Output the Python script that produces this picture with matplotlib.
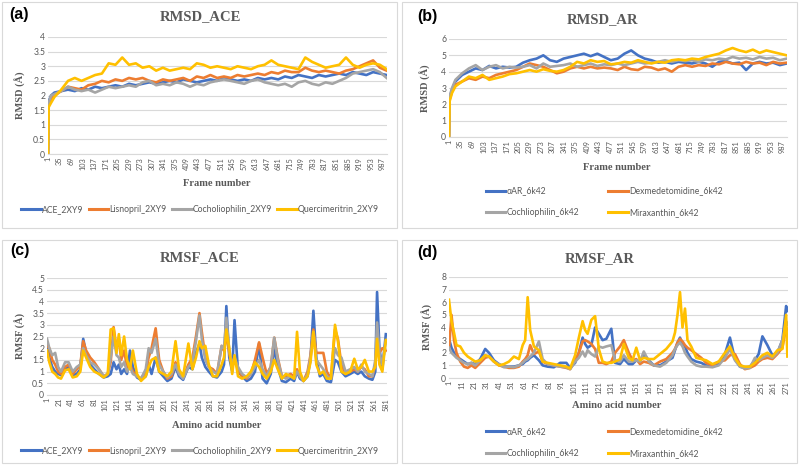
import matplotlib
matplotlib.use("Agg")
import matplotlib.pyplot as plt
from matplotlib.patches import Rectangle

# ---- RMSD data (frame number -> RMSD in Angstrom) ----
rmsd_frames = [1, 3, 10, 20, 40, 60, 80, 100, 120, 140, 160, 180, 200, 220, 240, 260,
               280, 300, 320, 340, 360, 380, 400, 420, 440, 460, 480, 500, 520, 540,
               560, 580, 600, 620, 640, 660, 680, 700, 720, 740, 760, 780, 800, 820,
               840, 860, 880, 900, 920, 940, 960, 980, 1000]

ace_2xy9 = [0, 1.8, 2.0, 2.1, 2.15, 2.2, 2.15, 2.25, 2.2, 2.3, 2.25, 2.3, 2.35, 2.3, 2.4,
            2.35, 2.4, 2.45, 2.4, 2.45, 2.5, 2.45, 2.55, 2.5, 2.45, 2.5, 2.55, 2.5, 2.6,
            2.55, 2.5, 2.55, 2.5, 2.6, 2.55, 2.6, 2.55, 2.65, 2.6, 2.7, 2.65, 2.6, 2.7,
            2.65, 2.7, 2.75, 2.7, 2.8, 2.75, 2.7, 2.8, 2.75, 2.7]
lisnopril_2xy9 = [0, 1.7, 1.85, 2.0, 2.15, 2.3, 2.25, 2.2, 2.35, 2.4, 2.5, 2.45, 2.55, 2.5,
                  2.6, 2.55, 2.6, 2.5, 2.45, 2.55, 2.5, 2.55, 2.6, 2.5, 2.65, 2.6, 2.7, 2.6,
                  2.65, 2.6, 2.7, 2.65, 2.7, 2.75, 2.7, 2.8, 2.75, 2.85, 2.8, 2.8, 2.95,
                  2.85, 2.8, 2.85, 2.8, 2.75, 2.85, 2.9, 3.0, 3.1, 3.2, 2.95, 2.85]
cocholiophilin_2xy9 = [0, 1.75, 2.0, 2.05, 2.15, 2.3, 2.2, 2.15, 2.2, 2.1, 2.2, 2.3, 2.25,
                       2.3, 2.35, 2.3, 2.45, 2.5, 2.35, 2.4, 2.35, 2.45, 2.4, 2.3, 2.4,
                       2.35, 2.45, 2.5, 2.55, 2.5, 2.45, 2.4, 2.5, 2.55, 2.45, 2.4, 2.35,
                       2.4, 2.3, 2.45, 2.5, 2.4, 2.35, 2.45, 2.4, 2.5, 2.6, 2.75, 2.8,
                       2.85, 2.9, 2.8, 2.6]
quercimeritrin_2xy9 = [0, 1.6, 1.75, 1.95, 2.2, 2.5, 2.6, 2.5, 2.6, 2.7, 2.75, 3.1, 3.05,
                       3.3, 3.05, 3.1, 2.95, 3.0, 2.85, 2.95, 2.85, 2.9, 2.95, 2.9, 3.1,
                       3.05, 2.95, 3.0, 2.95, 2.9, 3.0, 2.95, 2.9, 3.0, 3.05, 3.2, 3.05,
                       3.0, 2.95, 2.9, 3.3, 3.15, 3.05, 2.95, 3.0, 3.05, 3.3, 3.05, 2.95,
                       3.05, 3.1, 3.05, 2.9]

aar_6k42 = [0, 2.4, 2.9, 3.4, 3.8, 4.0, 4.2, 4.1, 4.35, 4.2, 4.3, 4.25, 4.3, 4.55, 4.7, 4.8,
            5.0, 4.7, 4.6, 4.8, 4.9, 5.0, 5.1, 4.95, 5.1, 4.9, 4.7, 4.8, 5.1, 5.3, 5.0, 4.8,
            4.7, 4.55, 4.6, 4.5, 4.6, 4.55, 4.5, 4.6, 4.5, 4.3, 4.6, 4.65, 4.5, 4.55, 4.1,
            4.5, 4.6, 4.5, 4.55, 4.4, 4.5]
dexmedetomidine_6k42 = [0, 2.3, 2.8, 3.2, 3.4, 3.6, 3.5, 3.7, 3.6, 3.8, 3.9, 4.0, 4.1, 4.3,
                        4.5, 4.4, 4.3, 4.1, 3.9, 4.0, 4.2, 4.3, 4.2, 4.3, 4.2, 4.25, 4.2,
                        4.1, 4.3, 4.15, 4.1, 4.3, 4.25, 4.1, 4.2, 4.0, 4.3, 4.4, 4.3, 4.4,
                        4.35, 4.5, 4.45, 4.6, 4.5, 4.45, 4.6, 4.5, 4.55, 4.4, 4.6, 4.5, 4.55]
cochliophilin_6k42 = [0, 2.5, 3.0, 3.5, 3.9, 4.2, 4.4, 4.1, 4.3, 4.4, 4.2, 4.3, 4.25, 4.3,
                      4.4, 4.2, 4.5, 4.3, 4.35, 4.4, 4.5, 4.3, 4.4, 4.5, 4.35, 4.45, 4.4,
                      4.5, 4.4, 4.5, 4.6, 4.5, 4.55, 4.6, 4.7, 4.6, 4.7, 4.65, 4.7, 4.6,
                      4.75, 4.7, 4.8, 4.75, 4.9, 4.8, 4.85, 4.75, 4.9, 4.8, 4.85, 4.7, 4.8]
miraxanthin_6k42 = [0, 2.2, 2.7, 3.1, 3.4, 3.7, 3.6, 3.8, 3.5, 3.6, 3.7, 3.85, 3.9, 4.0, 4.1,
                    4.0, 4.15, 4.05, 4.0, 4.1, 4.3, 4.6, 4.5, 4.7, 4.6, 4.65, 4.45, 4.5,
                    4.6, 4.55, 4.7, 4.6, 4.5, 4.6, 4.55, 4.7, 4.75, 4.7, 4.8, 4.75, 4.9,
                    5.0, 5.1, 5.3, 5.45, 5.3, 5.2, 5.35, 5.15, 5.3, 5.2, 5.1, 5.0]

# ---- RMSF data for ACE (amino acid number -> RMSF) ----
ace_res = [1, 5, 10, 15, 20, 25, 32, 38, 45, 52, 58, 63, 68, 75, 82, 90, 98, 105, 110, 115,
           120, 124, 128, 133, 138, 143, 148, 155, 162, 170, 175, 180, 187, 193, 200, 207,
           214, 221, 227, 234, 243, 250, 256, 262, 266, 272, 278, 285, 292, 300, 304, 308,
           313, 318, 322, 328, 335, 343, 350, 357, 364, 370, 377, 384, 390, 396, 403, 410,
           418, 424, 429, 434, 440, 447, 452, 457, 462, 468, 474, 480, 487, 494, 499, 505,
           512, 520, 527, 533, 539, 545, 552, 558, 563, 566, 570, 575, 581]
rmsf_ace = [2.2, 1.6, 1.2, 1.0, 0.9, 0.85, 1.1, 1.2, 0.85, 0.9, 1.1, 2.4, 1.8, 1.3, 1.1, 0.9,
            0.75, 0.8, 0.9, 1.4, 1.1, 1.3, 0.9, 1.1, 0.9, 1.9, 1.2, 0.75, 0.65, 0.8, 1.3, 0.9,
            1.6, 1.0, 0.8, 0.6, 0.7, 1.2, 0.8, 0.65, 1.2, 1.1, 1.8, 2.2, 1.6, 1.2, 1.0, 0.8,
            0.75, 1.0, 1.3, 3.8, 1.6, 1.0, 3.2, 1.0, 0.8, 0.6, 0.7, 1.0, 2.2, 0.7, 0.5, 0.9,
            2.0, 1.2, 0.6, 0.55, 0.7, 0.6, 1.0, 0.7, 0.6, 0.8, 1.5, 3.6, 1.6, 0.8, 0.9, 0.6,
            0.55, 1.5, 1.4, 1.0, 0.8, 0.9, 1.0, 0.9, 1.0, 0.8, 0.7, 0.65, 1.0, 4.4, 2.0, 1.1,
            2.6]
rmsf_lisnopril = [2.1, 2.0, 1.5, 1.3, 1.0, 0.9, 1.2, 1.3, 0.9, 1.1, 1.3, 2.3, 1.9, 1.6, 1.4,
                  1.1, 0.8, 0.9, 1.4, 2.9, 2.0, 2.4, 1.5, 1.9, 1.2, 1.3, 1.0, 0.8, 0.7, 1.0,
                  1.6, 2.0, 2.85, 1.5, 1.0, 0.7, 0.8, 1.4, 1.0, 0.75, 1.3, 1.6, 2.5, 3.5, 2.7,
                  1.6, 1.2, 1.1, 0.9, 2.1, 1.9, 2.6, 1.8, 1.2, 1.5, 1.1, 0.8, 0.7, 0.9, 1.5,
                  2.25, 1.6, 0.9, 1.2, 2.45, 1.6, 0.8, 0.8, 0.9, 0.8, 1.1, 0.8, 0.6, 1.0, 1.7,
                  2.8, 1.8, 1.8, 1.8, 1.0, 0.7, 2.8, 2.4, 1.3, 0.9, 1.0, 1.1, 1.0, 1.2, 1.1,
                  0.8, 0.8, 1.3, 2.4, 1.8, 2.0, 1.9]
rmsf_cocholiophilin = [2.4, 2.0, 1.7, 1.8, 1.2, 1.0, 1.4, 1.4, 1.0, 1.2, 1.3, 2.0, 1.7, 1.4,
                       1.3, 1.1, 0.8, 0.9, 1.6, 2.5, 1.7, 1.6, 1.2, 1.4, 1.0, 1.2, 0.9, 0.8,
                       0.7, 1.1, 2.0, 1.8, 2.4, 1.3, 1.0, 0.75, 0.9, 1.3, 0.9, 0.7, 1.2, 1.4,
                       2.3, 3.4, 2.4, 1.5, 1.2, 1.0, 0.9, 2.1, 2.0, 3.3, 1.9, 1.3, 1.6, 1.2,
                       0.9, 0.75, 0.9, 1.2, 1.5, 1.1, 0.8, 1.2, 2.45, 1.5, 0.8, 0.7, 0.8, 0.7,
                       1.0, 0.8, 0.6, 0.9, 1.6, 2.7, 1.5, 1.3, 1.1, 0.8, 0.7, 2.0, 1.7, 1.6,
                       1.0, 1.1, 1.2, 1.0, 1.3, 1.0, 0.9, 0.8, 1.5, 3.1, 1.8, 1.3, 2.3]
rmsf_quercimeritrin = [1.9, 1.4, 1.0, 0.9, 0.75, 0.7, 1.05, 1.1, 0.75, 0.8, 1.0, 1.9, 1.6,
                       1.2, 1.0, 0.9, 0.75, 0.9, 2.8, 2.85, 1.8, 2.6, 1.7, 2.5, 1.5, 1.1,
                       1.9, 0.9, 0.6, 0.8, 1.2, 1.5, 1.6, 1.0, 0.9, 0.8, 1.0, 2.3, 1.1, 0.8,
                       2.2, 1.1, 1.6, 2.3, 2.0, 2.1, 1.3, 0.8, 0.8, 1.3, 1.6, 2.8, 2.0, 0.9,
                       1.7, 0.8, 0.7, 0.8, 1.0, 1.4, 1.2, 0.9, 0.7, 1.0, 1.5, 1.1, 0.7, 0.9,
                       0.8, 0.7, 2.7, 1.0, 0.6, 0.8, 1.4, 2.7, 1.3, 0.9, 1.0, 0.7, 0.7, 3.0,
                       2.3, 1.0, 0.9, 1.0, 1.55, 1.1, 1.2, 1.5, 1.0, 1.0, 1.2, 2.4, 1.3, 1.0,
                       2.35]

# ---- RMSF data for AR ----
ar_res = [1, 3, 5, 7, 10, 13, 16, 19, 22, 26, 30, 33, 37, 41, 45, 49, 53, 57, 60, 62, 64,
          66, 69, 73, 76, 80, 85, 90, 95, 98, 102, 105, 108, 110, 112, 115, 118, 121, 124,
          127, 131, 134, 138, 141, 145, 148, 151, 154, 157, 161, 165, 170, 175, 180, 182,
          184, 186, 188, 190, 192, 195, 199, 203, 207, 212, 217, 222, 226, 230, 234, 238,
          242, 246, 249, 252, 256, 260, 264, 268, 271, 272]
rmsf_aar = [3.1, 2.4, 2.0, 1.7, 1.5, 1.3, 1.1, 1.2, 1.1, 1.5, 2.3, 2.0, 1.4, 1.1, 0.9, 0.9,
            0.9, 1.0, 1.1, 1.3, 1.4, 1.6, 1.8, 1.4, 1.0, 0.9, 0.85, 1.2, 1.2, 0.8, 1.2, 2.0,
            3.2, 2.7, 2.4, 2.6, 4.0, 3.5, 3.0, 3.1, 3.9, 1.2, 1.1, 1.5, 1.1, 1.1, 1.4, 1.3,
            1.9, 1.4, 1.0, 1.0, 1.3, 1.6, 2.2, 2.8, 3.2, 2.7, 2.5, 2.0, 1.5, 1.3, 1.2, 1.0,
            0.9, 1.1, 1.9, 3.2, 1.5, 0.9, 0.8, 0.9, 1.4, 1.9, 3.3, 2.6, 1.8, 2.0, 3.0, 5.7,
            5.3]
rmsf_dexmedetomidine = [2.3, 5.0, 3.0, 2.0, 1.3, 0.9, 0.8, 1.0, 0.8, 1.2, 1.6, 1.7, 1.3, 1.0,
                        0.9, 0.8, 0.8, 0.9, 1.3, 1.5, 1.8, 2.6, 1.9, 2.1, 1.3, 1.1, 1.0, 0.9,
                        0.8, 0.7, 1.4, 2.0, 2.9, 3.0, 2.9, 2.7, 2.3, 1.2, 1.2, 1.1, 1.3, 2.0,
                        2.5, 3.0, 2.0, 1.4, 1.5, 1.1, 1.3, 1.2, 1.0, 1.3, 1.5, 2.0, 2.3, 2.8,
                        3.1, 2.9, 2.6, 2.4, 2.2, 1.9, 1.6, 1.2, 1.0, 1.3, 1.4, 1.8, 1.9, 1.1,
                        0.7, 0.8, 1.0, 1.3, 1.5, 1.6, 1.5, 1.9, 2.4, 4.0, 3.8]
rmsf_cochliophilin = [2.4, 2.0, 1.8, 1.6, 1.4, 1.2, 1.1, 1.2, 1.0, 1.4, 1.8, 1.7, 1.3, 1.1,
                      0.85, 0.9, 0.85, 1.0, 1.2, 1.4, 1.5, 1.7, 2.0, 2.9, 1.5, 1.1, 1.0, 0.9,
                      0.85, 0.7, 1.3, 1.6, 2.1, 1.7, 2.2, 1.9, 1.7, 2.5, 2.4, 2.5, 2.6, 1.4,
                      1.3, 1.8, 1.3, 1.3, 1.4, 1.3, 2.1, 1.3, 1.0, 0.9, 1.2, 1.8, 2.3, 2.6,
                      2.8, 2.5, 2.0, 1.7, 1.3, 1.0, 0.9, 0.9, 0.85, 1.0, 1.6, 2.3, 1.4, 0.9,
                      0.75, 0.8, 1.6, 1.4, 1.6, 1.8, 1.6, 2.0, 3.0, 4.5, 4.2]
rmsf_miraxanthin = [6.2, 4.5, 3.6, 2.6, 2.5, 2.0, 1.7, 1.5, 1.3, 1.4, 1.8, 1.7, 1.3, 1.0, 1.1,
                    1.3, 1.7, 1.5, 2.6, 3.0, 6.4, 3.8, 2.5, 2.2, 1.3, 1.2, 1.1, 1.0, 0.9,
                    0.75, 1.8, 3.2, 4.5, 3.8, 3.5, 4.6, 4.9, 2.3, 1.3, 1.2, 1.2, 1.3, 1.5,
                    2.7, 1.6, 1.4, 2.4, 1.4, 1.6, 1.5, 1.5, 1.9, 2.3, 2.9, 3.6, 5.0, 6.8,
                    4.0, 5.5, 3.0, 2.5, 1.6, 1.5, 1.4, 1.1, 1.3, 2.0, 2.5, 1.6, 1.0, 0.9,
                    0.9, 1.2, 1.5, 1.8, 2.0, 1.7, 2.2, 2.3, 5.0, 1.7]

ace_labels = ["ACE_2XY9", "Lisnopril_2XY9", "Cocholiophilin_2XY9", "Quercimeritrin_2XY9"]
ar_labels = ["\u03b1AR_6k42", "Dexmedetomidine_6k42", "Cochliophilin_6k42", "Miraxanthin_6k42"]

colors = ["#4472C4", "#ED7D31", "#A5A5A5", "#FFC000"]
TXT = "#595959"
GRID = "#D9D9D9"
SERIF = "Liberation Serif"
SANS = "Lato"

W, H = 800, 466
fig = plt.figure(figsize=(W / 100, H / 100), dpi=100)


def fx(px):
    return px / W


def fy(py):
    return 1 - py / H


def panel(box, axbox, xs, series, labels, ymax, ystep, xticks, xmax,
          letter, letter_xy, title, title_xy, ylabel, ylabel_xy, xlabel, xlabel_xy,
          leg_xy, ncol, colspace):
    x0, y0, x1, y1 = box
    fig.patches.append(Rectangle((fx(x0), fy(y1)), fx(x1 - x0), (y1 - y0) / H,
                                 transform=fig.transFigure, fill=False,
                                 edgecolor=GRID, linewidth=0.8))
    l, t, r, b = axbox
    ax = fig.add_axes([fx(l), fy(b), fx(r - l), (b - t) / H])
    for ys, lab, c in zip(series, labels, colors):
        ax.plot(xs, ys, color=c, lw=1.9, label=lab, solid_joinstyle="round")
    ax.set_xlim(1, xmax)
    ax.set_ylim(0, ymax)
    yt = [i * ystep for i in range(int(round(ymax / ystep)) + 1)]
    ax.set_yticks(yt)
    ax.set_yticklabels([("%g" % v) for v in yt], fontsize=6.2, color=TXT, family=SANS)
    ax.set_xticks(xticks)
    ax.set_xticklabels([str(v) for v in xticks], rotation=90, fontsize=5.3,
                       color=TXT, family=SANS)
    ax.tick_params(length=0, pad=2)
    ax.grid(axis="y", color=GRID, lw=0.8)
    ax.set_axisbelow(True)
    for s in ["top", "left", "right"]:
        ax.spines[s].set_visible(False)
    ax.spines["bottom"].set_color(GRID)
    ax.spines["bottom"].set_linewidth(0.8)

    fig.text(fx(letter_xy[0]), fy(letter_xy[1]), letter, fontsize=11.5,
             fontweight="bold", family="Liberation Sans", ha="center", va="center")
    fig.text(fx(title_xy[0]), fy(title_xy[1]), title, fontsize=10.5,
             fontweight="bold", family=SERIF, color=TXT, ha="center", va="center")
    fig.text(fx(ylabel_xy[0]), fy(ylabel_xy[1]), ylabel, fontsize=7.5, rotation=90,
             fontweight="bold", family=SERIF, color=TXT, ha="center", va="center")
    fig.text(fx(xlabel_xy[0]), fy(xlabel_xy[1]), xlabel, fontsize=7.6,
             fontweight="bold", family=SERIF, color=TXT, ha="center", va="center")
    h, lb = ax.get_legend_handles_labels()
    lspace = 0.55
    if ncol == 2:
        # legend is filled row by row in the original
        order = [0, 2, 1, 3]
        h = [h[i] for i in order]
        lb = [lb[i] for i in order]
        lspace = 1.5
    leg = fig.legend(h, lb, loc="center", bbox_to_anchor=(fx(leg_xy[0]), fy(leg_xy[1])),
                     ncol=ncol, frameon=False, handlelength=2.3, handletextpad=0.1,
                     columnspacing=colspace, labelspacing=lspace,
                     prop={"family": SANS, "size": 6.2})
    for txt in leg.get_texts():
        txt.set_color(TXT)
    for ln in leg.get_lines():
        ln.set_linewidth(2.2)
    return ax


rmsd_ticks = list(range(1, 1001, 34))

panel((2, 2, 397, 228), (48, 37, 387, 154), rmsd_frames,
      [ace_2xy9, lisnopril_2xy9, cocholiophilin_2xy9, quercimeritrin_2xy9], ace_labels,
      4, 0.5, rmsd_ticks, 1001,
      "(a)", (19, 15), "RMSD_ACE", (200, 17), "RMSD (\u00c5)", (20, 95),
      "Frame number", (217, 183), (200, 210), 4, 0.6)

panel((402, 2, 797, 228), (449, 39, 787, 137), rmsd_frames,
      [aar_6k42, dexmedetomidine_6k42, cochliophilin_6k42, miraxanthin_6k42], ar_labels,
      6, 1, rmsd_ticks, 1001,
      "(b)", (427, 16), "RMSD_AR", (602, 20), "RMSD (\u00c5)", (425, 88),
      "Frame number", (617, 167), (604, 202), 2, 3.4)

panel((2, 240, 397, 463), (47, 278, 387, 395), ace_res,
      [rmsf_ace, rmsf_lisnopril, rmsf_cocholiophilin, rmsf_quercimeritrin], ace_labels,
      5, 0.5, list(range(1, 582, 20)), 583,
      "(c)", (20, 250), "RMSF_ACE", (200, 258), "RMSF (\u00c5)", (20, 336),
      "Amino acid number", (217, 425), (200, 451), 4, 0.6)

panel((402, 240, 797, 463), (449, 277, 788, 378), ar_res,
      [rmsf_aar, rmsf_dexmedetomidine, rmsf_cochliophilin, rmsf_miraxanthin], ar_labels,
      8, 1, list(range(1, 272, 10)), 272.5,
      "(d)", (427, 252), "RMSF_AR", (600, 259), "RMSF (\u00c5)", (427, 327),
      "Amino acid number", (617, 406), (604, 442.5), 2, 3.4)

fig.savefig("out.png", dpi=100, facecolor="white")
